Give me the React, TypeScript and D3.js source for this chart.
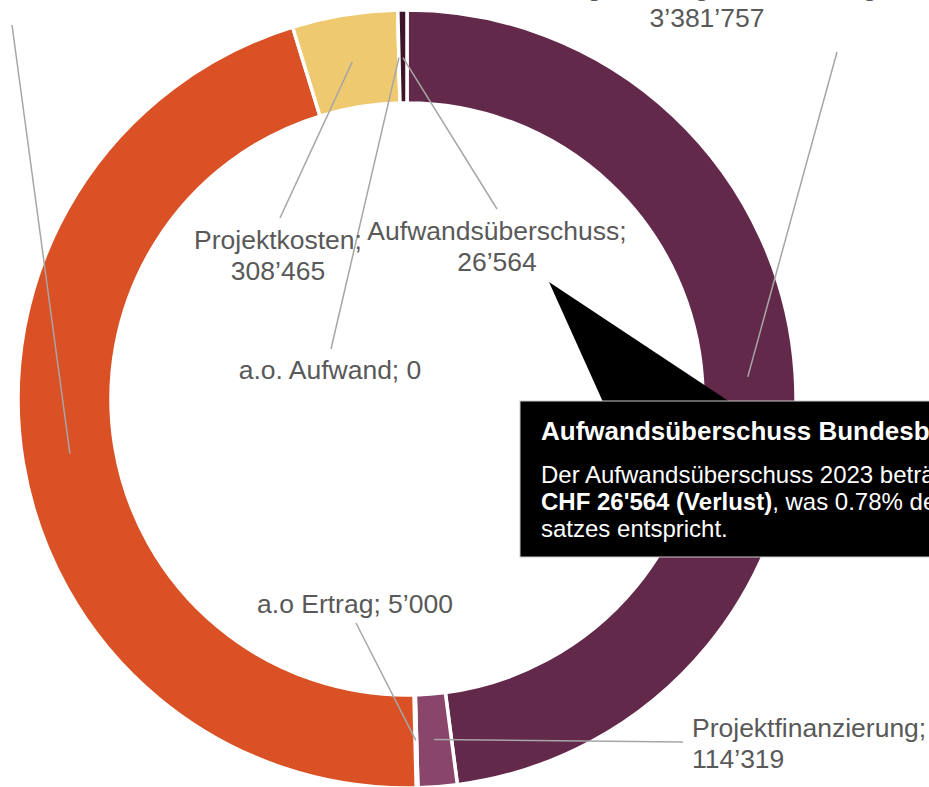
import React from "react";
import * as d3 from "d3";

// ---- data ----
const categories = [
  "Ertrag Leistungsvereinbarung",
  "Projektfinanzierung",
  "a.o Ertrag",
  "Aufwand Leistungsvereinbarung",
  "Projektkosten",
  "a.o. Aufwand",
  "Aufwandsüberschuss",
];
const values = [3381757, 114319, 5000, 3219175, 308465, 0, 26564];
const colors = ["#63294a", "#8a456b", "#ffffff", "#d95124", "#efc96f", "#8c8c8c", "#3d1629"];

const calloutTitle = "Aufwandsüberschuss Bundesbeitrag";
const calloutLine1 = "Der Aufwandsüberschuss 2023 beträgt";
const calloutBold = "CHF 26'564 (Verlust)";
const calloutRest = ", was 0.78% des Um-";
const calloutLine3 = "satzes entspricht.";

// ---- layout ----
const W = 929;
const H = 787;
const cx = 407;
const cy = 399;
const rOuter = 389;
const rInner = 296;
const fontFamily = "'Liberation Sans', Arial, Helvetica, sans-serif";

const fmt = d3
  .formatLocale({ decimal: ".", thousands: "’", grouping: [3], currency: ["", ""] })
  .format(",d");

type LabelLayout = {
  x: number;
  y: number; // first baseline
  anchor: "start" | "middle" | "end";
  twoLines: boolean;
  lx: number; // leader end
  ly: number;
};

const labelLayout: LabelLayout[] = [
  { x: 707, y: -4, anchor: "middle", twoLines: true, lx: 837, ly: 52 },
  { x: 692, y: 737, anchor: "start", twoLines: true, lx: 683, ly: 742 },
  { x: 355, y: 613, anchor: "middle", twoLines: false, lx: 356, ly: 623 },
  { x: 60, y: -40, anchor: "middle", twoLines: true, lx: 12, ly: 25 },
  { x: 278, y: 249, anchor: "middle", twoLines: true, lx: 280, ly: 218 },
  { x: 330, y: 379, anchor: "middle", twoLines: false, lx: 331, ly: 349 },
  { x: 497, y: 240, anchor: "middle", twoLines: true, lx: 497, ly: 209 },
];

export default function App() {
  const pie = d3
    .pie<number>()
    .sort(null)
    .value((d) => d)
    .startAngle(0)
    .endAngle(2 * Math.PI);
  const arcs = pie(values);
  const arc = d3.arc<d3.PieArcDatum<number>>().innerRadius(rInner).outerRadius(rOuter);
  const mid = d3
    .arc<d3.PieArcDatum<number>>()
    .innerRadius((rInner + rOuter) / 2 - 1)
    .outerRadius((rInner + rOuter) / 2 - 1);

  const lineH = 31;

  return (
    <svg
      width={W}
      height={H}
      style={{ position: "absolute", left: 0, top: 0, background: "#fff" }}
      fontFamily={fontFamily}
    >
      <g transform={`translate(${cx},${cy})`}>
        {arcs.map((a, i) => (
          <path key={i} d={arc(a) || ""} fill={colors[i]} stroke="#fff" strokeWidth={3.5} />
        ))}
      </g>
      {arcs.map((a, i) => {
        const [mx, my] = mid.centroid(a);
        const L = labelLayout[i];
        return (
          <line
            key={"l" + i}
            x1={cx + mx}
            y1={cy + my}
            x2={L.lx}
            y2={L.ly}
            stroke="#a6a6a6"
            strokeWidth={1.5}
          />
        );
      })}
      {categories.map((c, i) => {
        const L = labelLayout[i];
        const v = fmt(values[i]);
        return (
          <text key={"t" + i} x={L.x} y={L.y} textAnchor={L.anchor} fontSize={26.5} fill="#595959">
            {L.twoLines ? (
              <>
                <tspan x={L.x}>{c + ";"}</tspan>
                <tspan x={L.x} dy={lineH}>
                  {v}
                </tspan>
              </>
            ) : (
              `${c}; ${v}`
            )}
          </text>
        );
      })}
      <g>
        <polygon points="549,282 603,402 730,402" fill="#000" />
        <rect x={520} y={401} width={430} height={156} fill="#000" stroke="#c8c8c8" strokeWidth={1} />
        <text x={541} y={440} fill="#fff" fontSize={26} fontWeight="bold">
          {calloutTitle}
        </text>
        <text x={541} y={483} fill="#fff" fontSize={24}>
          {calloutLine1}
        </text>
        <text x={541} y={510} fill="#fff" fontSize={24}>
          <tspan fontWeight="bold">{calloutBold}</tspan>
          <tspan>{calloutRest}</tspan>
        </text>
        <text x={541} y={537} fill="#fff" fontSize={24}>
          {calloutLine3}
        </text>
      </g>
    </svg>
  );
}
